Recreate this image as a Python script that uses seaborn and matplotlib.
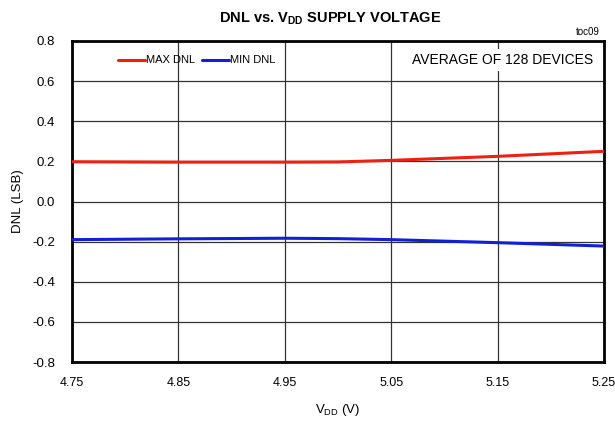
import matplotlib
matplotlib.use('Agg')
import matplotlib.pyplot as plt
import seaborn as sns
import pandas as pd

vdd = [4.75, 4.85, 4.95, 5.00, 5.05, 5.15, 5.25]
max_dnl = [0.198, 0.196, 0.196, 0.197, 0.205, 0.225, 0.250]
min_dnl = [-0.190, -0.186, -0.183, -0.185, -0.190, -0.205, -0.222]
x_ticks = [4.75, 4.85, 4.95, 5.05, 5.15, 5.25]
y_ticks = [-0.8, -0.6, -0.4, -0.2, 0.0, 0.2, 0.4, 0.6, 0.8]

sns.set_style('white')
plt.rcParams['font.family'] = ['Liberation Sans Narrow', 'Liberation Sans', 'DejaVu Sans']
plt.rcParams['text.color'] = 'black'
plt.rcParams['axes.labelcolor'] = 'black'
plt.rcParams['xtick.color'] = 'black'
plt.rcParams['ytick.color'] = 'black'

df = pd.DataFrame({'vdd': vdd * 2,
                   'dnl': max_dnl + min_dnl,
                   'series': ['MAX DNL'] * len(vdd) + ['MIN DNL'] * len(vdd)})

fig = plt.figure(figsize=(6.15, 4.22), dpi=100)
ax = fig.add_axes([0.117, 0.142, 0.865, 0.761])

sns.lineplot(data=df, x='vdd', y='dnl', hue='series',
             palette={'MAX DNL': '#f02010', 'MIN DNL': '#1020d8'},
             linewidth=2.2, legend=False, ax=ax, zorder=3)

ax.set_xlim(4.75, 5.25)
ax.set_ylim(-0.8, 0.8)
ax.set_xticks(x_ticks)
ax.set_xticklabels([f'{t:.2f}' for t in x_ticks])
ax.set_yticks(y_ticks)
ax.set_yticklabels([f'{t:.1f}' for t in y_ticks])
ax.grid(True, color='#333333', linewidth=0.9)
ax.tick_params(axis='x', length=0, labelsize=9, pad=11)
ax.tick_params(axis='y', length=0, labelsize=9.5, pad=12)
for s in ax.spines.values():
    s.set_linewidth(2)
    s.set_color('black')

ax.set_xlabel('V$_{\\mathregular{DD}}$ (V)', fontsize=9.5, labelpad=9)
ax.set_ylabel('DNL (LSB)', fontsize=9.5, labelpad=6)
fig.text(0.537, 0.955, 'DNL vs. V$_{\\mathregular{DD}}$ SUPPLY VOLTAGE',
         ha='center', va='center', fontsize=10.5, fontweight='bold')
fig.text(0.975, 0.925, 'toc09', ha='right', va='center', fontsize=7)

# legend drawn as short line samples
ax.plot([4.793, 4.819], [0.705, 0.705], color='#f02010', lw=2.2, zorder=4)
ax.text(4.82, 0.705, 'MAX DNL', va='center', fontsize=8, zorder=4)
ax.plot([4.872, 4.898], [0.705, 0.705], color='#1020d8', lw=2.2, zorder=4)
ax.text(4.899, 0.705, 'MIN DNL', va='center', fontsize=8, zorder=4)
ax.text(5.24, 0.705, 'AVERAGE OF 128 DEVICES', ha='right', va='center', fontsize=10,
        bbox=dict(facecolor='white', edgecolor='none', pad=3), zorder=4)

fig.savefig('out.png', dpi=100)
